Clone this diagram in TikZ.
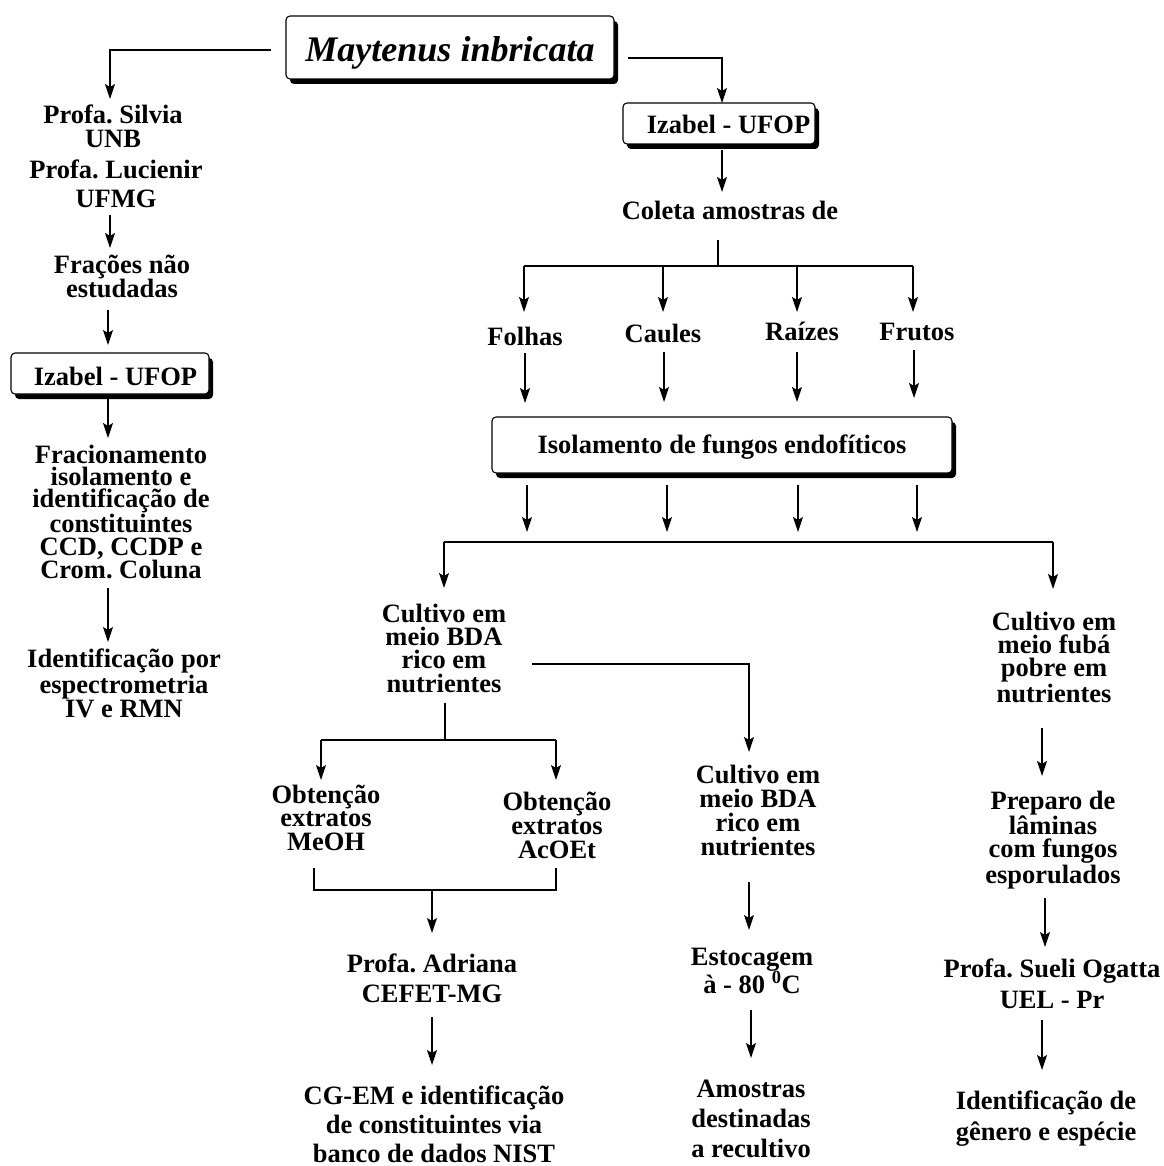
\documentclass[tikz,border=0pt]{standalone}
\usepackage{fontspec}
\setmainfont{Liberation Serif}
\usetikzlibrary{arrows.meta,shadows}
\frenchspacing
\newcommand{\fz}[1]{\fontsize{26.5pt}{#1pt}\selectfont\bfseries}
\begin{document}
\begin{tikzpicture}[x=1pt,y=-1pt,
  line width=1.2pt,
  arr/.style={-{Stealth[length=15pt,width=10pt,inset=3pt]}},
  lbl/.style={anchor=base, align=center, inner sep=0pt},
  sbox/.style={draw, rounded corners=4pt, fill=white, inner sep=0pt, line width=1.1pt,
    drop shadow={shadow xshift=4pt, shadow yshift=-5pt, opacity=1, fill=black}},
]
\fill[white] (0,0) rectangle (1163,1166);
\useasboundingbox (0,0) rectangle (1163,1166);

% boxes
\node[sbox, minimum width=328pt, minimum height=63pt, text height=33pt, text depth=4pt,
  font=\fontsize{36pt}{40pt}\selectfont\bfseries\itshape] (title) at (450,47.5) {Maytenus inbricata};
\node[sbox, minimum width=192pt, minimum height=41pt, text height=21pt, text depth=0pt,
  font=\fz{30}] (izR) at (719,123.5) {\hspace*{19pt}Izabel - UFOP};
\node[sbox, minimum width=198pt, minimum height=41pt, text height=23pt, text depth=0pt,
  font=\fz{30}] (izL) at (110,373.5) {\hspace*{11pt}Izabel - UFOP};
\node[sbox, minimum width=460pt, minimum height=56pt, text height=20pt, text depth=4pt,
  font=\fz{30}] (isol) at (722,445) {Isolamento de fungos endofíticos};

% left column (anchor base = last line baseline)
\node[lbl, font=\fz{24}] (silvia) at (113,148) {Profa. Silvia\\UNB};
\node[lbl, font=\fz{29}] (lucienir) at (116,208) {Profa. Lucienir\\UFMG};
\node[lbl, font=\fz{24}] (fracoes) at (122,297) {Frações não\\estudadas};
\node[lbl, font=\fz{22.3}] (fracion) at (121,578.5) {Fracionamento\\isolamento e\\identificação de\\constituintes\\CCD, CCDP e\\Crom. Coluna};
\node[lbl, font=\fz{22}] (identpor) at (124,717) {Identificação por\\espectrometria\\IV e RMN};

% right part
\node[lbl, font=\fz{24}] (coleta) at (730,220) {Coleta amostras de};
\node[lbl, font=\fz{24}] (folhas) at (525,345) {Folhas};
\node[lbl, font=\fz{24}] (caules) at (663,342) {Caules};
\node[lbl, font=\fz{24}] (raizes) at (802,340) {Raízes};
\node[lbl, font=\fz{24}] (frutos) at (917,340) {Frutos};

\node[lbl, font=\fz{23.3}] (cultA) at (444,692) {Cultivo em\\meio BDA\\rico em\\nutrientes};
\node[lbl, font=\fz{24}] (cultB) at (758,855) {Cultivo em\\meio BDA\\rico em\\nutrientes};
\node[lbl, font=\fz{23}] (cultC) at (1054,702) {Cultivo em\\meio fubá\\pobre em\\nutrientes};
\node[lbl, font=\fz{23.5}] (meoh) at (326,850) {Obtenção\\extratos\\MeOH};
\node[lbl, font=\fz{24}] (acoet) at (557,858) {Obtenção\\extratos\\AcOEt};
\node[lbl, font=\fz{30}] (adriana) at (432,1002) {Profa. Adriana\\CEFET-MG};
\node[lbl, font=\fz{29}] (cgem) at (434,1162) {CG-EM e identificação\\de constituintes via\\banco de dados NIST};
\node[lbl, font=\fz{28}] (estoc) at (752,993) {Estocagem\\à - 80 \textsuperscript{0}C};
\node[lbl, font=\fz{30}] (amostras) at (751,1157) {Amostras\\destinadas\\a recultivo};
\node[lbl, font=\fz{23.3}] (preparo) at (1053,883) {Preparo de\\lâminas\\com fungos\\esporulados};
\node[lbl, font=\fz{31}] (sueli) at (1052,1008) {Profa. Sueli Ogatta\\UEL - Pr};
\node[lbl, font=\fz{31}] (identgen) at (1046,1140) {Identificação de\\gênero e espécie};

% connectors left
\draw[arr] ([xshift=-14pt,yshift=-2.5pt]title.west) -| (110,99);
\draw[arr] (110,215) -- (110,248);
\draw[arr] (108,310) -- (108,345);
\draw[arr] (108,398) -- (108,438);
\draw[arr] (108,588) -- (108,642);

% connectors right
\draw[arr] (628,58) -- (722,58) -- (722,103);
\draw[arr] (722,150) -- (722,192);
\draw (718,240) -- (718,266);
\draw (524,266) -- (913,266);
\foreach \x in {524,663,797,913} \draw[arr] (\x,266) -- (\x,312);
\draw[arr] (525,353) -- (525,403);
\draw[arr] (664,352) -- (664,402);
\draw[arr] (797,352) -- (797,402);
\draw[arr] (914,350) -- (914,398);
\foreach \x in {527,667,798,917} \draw[arr] (\x,485) -- (\x,532);
\draw (444,542) -- (1053,542);
\draw[arr] (444,542) -- (444,588);
\draw[arr] (1053,542) -- (1053,589);
\draw[arr] (532,664) -- (749,664) -- (749,752);
\draw (445,703) -- (445,740);
\draw (321,740) -- (556,740);
\draw[arr] (321,740) -- (321,780);
\draw[arr] (556,740) -- (556,780);
\draw (314,868) -- (314,890) -- (556,890) -- (556,868);
\draw[arr] (432,890) -- (432,933);
\draw[arr] (432,1017) -- (432,1065);
\draw[arr] (749,882) -- (749,930);
\draw[arr] (751,1010) -- (751,1058);
\draw[arr] (1042,728) -- (1042,776);
\draw[arr] (1045,898) -- (1045,947);
\draw[arr] (1042,1020) -- (1042,1070);
\end{tikzpicture}
\end{document}
